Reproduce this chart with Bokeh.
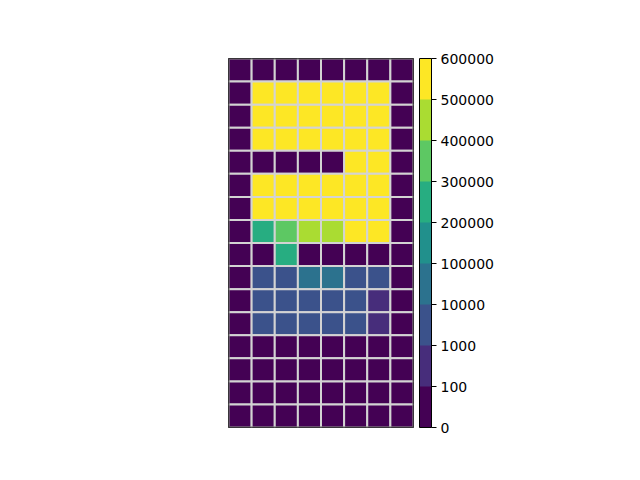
import numpy as np
from bokeh.plotting import figure
from bokeh.models import ColumnDataSource, LinearColorMapper, ColorBar, FixedTicker, Range1d
from bokeh.transform import transform
from bokeh.embed import file_html
from bokeh.resources import INLINE

# bin boundaries of the colour scale
bounds = [0, 100, 1000, 10000, 100000, 200000, 300000, 400000, 500000, 600000]
tick_labels = ["0", "100", "1000", "10000", "100000", "200000", "300000", "400000", "500000", "600000"]
palette = ["#440154", "#472D7B", "#3B528B", "#2C728E", "#21908C", "#27AD81", "#5DC863", "#AADC32", "#FDE725"]

# grid values, top row first (8 columns x 16 rows)
grid = [
    [0, 0, 0, 0, 0, 0, 0, 0],
    [0, 550000, 550000, 550000, 550000, 550000, 550000, 0],
    [0, 550000, 550000, 550000, 550000, 550000, 550000, 0],
    [0, 550000, 550000, 550000, 550000, 550000, 550000, 0],
    [0, 0, 0, 0, 0, 550000, 550000, 0],
    [0, 550000, 550000, 550000, 550000, 550000, 550000, 0],
    [0, 550000, 550000, 550000, 550000, 550000, 550000, 0],
    [0, 250000, 350000, 450000, 450000, 550000, 550000, 0],
    [0, 0, 250000, 0, 0, 0, 0, 0],
    [0, 5000, 5000, 50000, 50000, 5000, 5000, 0],
    [0, 5000, 5000, 5000, 5000, 5000, 500, 0],
    [0, 5000, 5000, 5000, 5000, 5000, 500, 0],
    [0, 0, 0, 0, 0, 0, 0, 0],
    [0, 0, 0, 0, 0, 0, 0, 0],
    [0, 0, 0, 0, 0, 0, 0, 0],
    [0, 0, 0, 0, 0, 0, 0, 0],
]

arr = np.array(grid, dtype=float)
nrows, ncols = arr.shape
rows, cols = np.meshgrid(np.arange(nrows), np.arange(ncols), indexing="ij")
bins = np.clip(np.digitize(arr.ravel(), bounds) - 1, 0, len(palette) - 1)

src = ColumnDataSource(dict(
    x=(cols.ravel() + 0.5),
    y=(rows.ravel() + 0.5),
    b=bins + 0.5,
    v=arr.ravel(),
))

mapper = LinearColorMapper(palette=palette, low=0, high=len(palette))

p = figure(width=600, height=464, output_backend="svg", toolbar_location=None,
           x_range=Range1d(0, ncols), y_range=Range1d(nrows, 0),
           frame_width=185, frame_height=369,
           min_border_left=228, min_border_top=58, min_border_bottom=10, min_border_right=10)
p.xaxis.visible = False
p.yaxis.visible = False
p.xgrid.visible = False
p.ygrid.visible = False
p.outline_line_color = "black"
p.outline_line_width = 1
p.background_fill_color = "white"

p.rect(x="x", y="y", width=1, height=1, source=src,
       fill_color=transform("b", mapper), line_color="#d3d3d3", line_width=2)
# black frame on top of the cell edges
p.quad(left=0, right=ncols, top=0, bottom=nrows, fill_color=None, line_color="black", line_width=1.5)

cb = ColorBar(color_mapper=mapper, ticker=FixedTicker(ticks=list(range(len(bounds)))),
              major_label_overrides={i: t for i, t in enumerate(tick_labels)},
              width=12, height=369, padding=6, margin=0,
              bar_line_color="black", major_tick_line_color="black",
              major_tick_in=0, major_tick_out=5, label_standoff=4,
              major_label_text_font="DejaVu Sans", major_label_text_font_size="14px",
              major_label_text_color="black", location=(0, -6),
              border_line_color=None, background_fill_color=None)
p.add_layout(cb, "right")

open("out.html", "w").write(file_html(p, INLINE))
